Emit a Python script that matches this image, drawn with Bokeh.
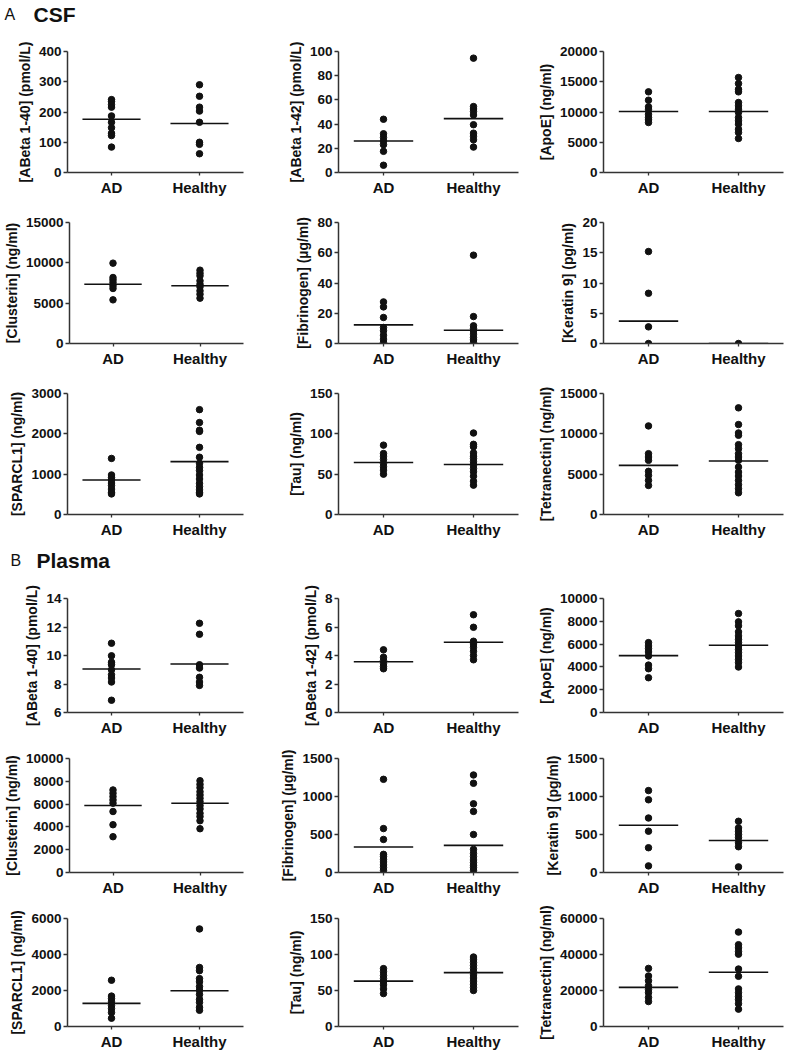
from bokeh.plotting import figure
from bokeh.layouts import column, row
from bokeh.models import Label, FixedTicker, ColumnDataSource, FactorRange, Range1d
from bokeh.transform import dodge
from bokeh.embed import file_html
from bokeh.resources import INLINE

groups = ["AD", "Healthy"]

# ---------------- CSF ----------------
csf_ab40_ad = [241, 235, 224, 216, 187, 166, 148, 130, 122, 84]
csf_ab40_healthy = [290, 252, 216, 203, 166, 100, 93, 62]
csf_ab40_mean = [176, 162]

csf_ab42_ad = [44, 32, 29, 26, 23, 17.5, 6]
csf_ab42_healthy = [94.5, 54.5, 52.5, 50.5, 47.5, 39.5, 32.5, 30, 27, 21]
csf_ab42_mean = [26, 44.5]

csf_apoe_ad = [13330, 11950, 10850, 10470, 9640, 9090, 8700, 8260]
csf_apoe_healthy = [15700, 14700, 13770, 13330, 11570, 11020, 10470, 9920,
                    9090, 8540, 7990, 7160, 6610, 5620]
csf_apoe_mean = [10080, 10080]

csf_clu_ad = [9960, 8180, 7890, 7560, 7150, 6820, 5410]
csf_clu_healthy = [9090, 8720, 8390, 7770, 7350, 7020, 6530, 6110, 5620]
csf_clu_mean = [7350, 7150]

csf_fib_ad = [27.5, 24.2, 17.2, 10.6, 8.4, 5.5, 2.9, 0.7]
csf_fib_healthy = [58.4, 17.8, 11.7, 9.9, 8.4, 6.2, 4.0, 2.4, 0.7]
csf_fib_mean = [12.3, 8.8]

csf_ker_ad = [15.2, 8.3, 2.75, 0]
csf_ker_healthy = [0]
csf_ker_mean = [3.7, 0]

csf_spa_ad = [1390, 980, 920, 860, 780, 720, 630, 550, 510]
csf_spa_healthy = [2600, 2280, 2090, 2060, 1665, 1420, 1270, 1170, 1090,
                   980, 880, 775, 690, 610, 550, 510]
csf_spa_mean = [857, 1310]

csf_tau_ad = [86, 75.6, 72.3, 68.2, 63.2, 59.1, 55, 50]
csf_tau_healthy = [101, 87, 84, 76.4, 72.3, 69.4, 65.3, 61.2, 57, 52.9,
                   47.5, 41.3, 36.4]
csf_tau_mean = [64.5, 62]

csf_tet_ad = [10980, 7540, 7130, 6710, 5350, 4850, 4230, 3600]
csf_tet_healthy = [13220, 11150, 10110, 9820, 8660, 8160, 7540, 7130, 6710,
                   5880, 5260, 4770, 4230, 3690, 3190, 2690]
csf_tet_mean = [6090, 6630]

# ---------------- Plasma ----------------
pl_ab40_ad = [10.86, 9.98, 9.53, 9.35, 9.0, 8.65, 8.42, 8.14, 6.86]
pl_ab40_healthy = [12.26, 11.49, 9.35, 9.12, 8.47, 8.14, 7.9]
pl_ab40_mean = [9.05, 9.4]

pl_ab42_ad = [4.4, 3.88, 3.65, 3.42, 3.23, 3.07]
pl_ab42_healthy = [6.86, 5.98, 5.0, 4.81, 4.58, 4.3, 4.0, 3.7]
pl_ab42_mean = [3.56, 4.93]

pl_apoe_ad = [6130, 5840, 5600, 5310, 4960, 4160, 3840, 3050]
pl_apoe_healthy = [8680, 7950, 7600, 7070, 6720, 6420, 6130, 5840, 5540,
                   5250, 4960, 4660, 4370, 3990]
pl_apoe_mean = [4985, 5894]

pl_clu_ad = [7240, 6950, 6660, 6370, 6080, 5350, 4190, 3140]
pl_clu_healthy = [8050, 7730, 7440, 7090, 6800, 6510, 6220, 5870, 5580,
                  5200, 4910, 4540, 3840]
pl_clu_mean = [5872, 6076]

pl_fib_ad = [1226, 578, 435, 239, 209, 174, 139, 100, 65, 30]
pl_fib_healthy = [1283, 1174, 904, 804, 500, 304, 252, 209, 165, 130, 96, 65, 30]
pl_fib_mean = [335, 357]

pl_ker_ad = [1078, 957, 717, 543, 326, 87]
pl_ker_healthy = [674, 587, 543, 500, 457, 391, 339, 74]
pl_ker_mean = [622, 422]

pl_spa_ad = [2570, 1690, 1550, 1370, 1160, 990, 775, 460]
pl_spa_healthy = [5420, 3280, 3100, 2660, 2480, 2220, 2010, 1780, 1510,
                  1340, 1070, 900]
pl_spa_mean = [1285, 1989]

pl_tau_ad = [80.4, 76, 70.9, 66.5, 62.2, 57.8, 52.2, 45.7]
pl_tau_healthy = [96.5, 93.5, 89.1, 84.8, 80.4, 76.1, 71.7, 67.4, 63,
                  58.7, 54.3, 50]
pl_tau_mean = [63, 74.8]

pl_tet_ad = [32280, 28070, 25440, 22630, 20530, 18770, 16140, 13860]
pl_tet_healthy = [52460, 45440, 43680, 41580, 40180, 31930, 27890, 20880,
                  18770, 16670, 14910, 12630, 9650]
pl_tet_mean = [21750, 30180]

FONT = "Liberation Sans"
INK = "#111111"

# (left border, right border, figure width) per column
COLS = [(67, 25, 268), (70, 12, 262), (73, 5, 258)]


def panel(ylabel, ad, healthy, means, ymin, ymax, step, col, height, top, bottom):
    left, right, w = COLS[col]
    p = figure(x_range=FactorRange(*groups), y_range=Range1d(ymin, ymax),
               width=w, height=height, output_backend="svg",
               toolbar_location=None, min_border_left=left,
               min_border_right=right, min_border_top=top,
               min_border_bottom=bottom)
    p.xgrid.visible = False
    p.ygrid.visible = False
    p.outline_line_color = None

    pts = ColumnDataSource(dict(x=["AD"] * len(ad) + ["Healthy"] * len(healthy),
                                y=list(ad) + list(healthy)))
    p.scatter("x", "y", source=pts, size=6.5, color=INK)

    ms = ColumnDataSource(dict(x=groups, y=means))
    p.segment(x0=dodge("x", -0.33, range=p.x_range), y0="y",
              x1=dodge("x", 0.33, range=p.x_range), y1="y",
              source=ms, line_width=1.6, line_color=INK)

    ticks = []
    t = ymin
    while t <= ymax:
        ticks.append(t)
        t += step
    p.yaxis.ticker = FixedTicker(ticks=ticks)
    p.yaxis.axis_label = ylabel
    p.yaxis.axis_label_text_font = FONT
    p.yaxis.axis_label_text_font_style = "bold"
    p.yaxis.axis_label_text_font_size = "14px"
    p.yaxis.axis_label_text_color = INK
    p.yaxis.axis_label_standoff = 3
    p.yaxis.major_label_standoff = 2
    for ax in (p.xaxis[0], p.yaxis[0]):
        ax.major_label_text_font = FONT
        ax.major_label_text_font_style = "bold"
        ax.major_label_text_color = INK
        ax.axis_line_width = 1.5
        ax.axis_line_color = "#333333"
        ax.major_tick_line_color = "#333333"
        ax.major_tick_line_width = 1.3
        ax.major_tick_in = 0
        ax.minor_tick_line_color = None
    p.yaxis.major_label_text_font_size = "13.5px"
    p.yaxis.major_tick_out = 4
    p.xaxis.major_label_text_font_size = "15px"
    p.xaxis.major_tick_out = 3
    p.xaxis.major_label_standoff = 3
    return p


def title_fig(letter, name, height, yc, xl, xn):
    p = figure(width=792, height=height, output_backend="svg",
               toolbar_location=None, x_axis_type=None, y_axis_type=None,
               min_border=0, x_range=Range1d(0, 1), y_range=Range1d(0, 1))
    p.outline_line_color = None
    p.grid.visible = False
    p.add_layout(Label(x=xl, y=yc, x_units="screen", y_units="screen",
                       text=letter, text_font=FONT, text_font_size="16px",
                       text_baseline="middle", text_color=INK))
    p.add_layout(Label(x=xn, y=yc, x_units="screen", y_units="screen",
                       text=name, text_font=FONT, text_font_size="21px",
                       text_font_style="bold", text_baseline="middle",
                       text_color=INK))
    return p


H1, T1, B1 = 171, 14, 36
H1b, B1b = 165, 30
csf_rows = [
    [panel("[ABeta 1-40] (pmol/L)", csf_ab40_ad, csf_ab40_healthy, csf_ab40_mean, 0, 400, 100, 0, H1, T1, B1),
     panel("[ABeta 1-42] (pmol/L)", csf_ab42_ad, csf_ab42_healthy, csf_ab42_mean, 0, 100, 20, 1, H1, T1, B1),
     panel("[ApoE] (ng/ml)", csf_apoe_ad, csf_apoe_healthy, csf_apoe_mean, 0, 20000, 5000, 2, H1, T1, B1)],
    [panel("[Clusterin] (ng/ml)", csf_clu_ad, csf_clu_healthy, csf_clu_mean, 0, 15000, 5000, 0, H1, T1, B1),
     panel("[Fibrinogen] (µg/ml)", csf_fib_ad, csf_fib_healthy, csf_fib_mean, 0, 80, 20, 1, H1, T1, B1),
     panel("[Keratin 9] (pg/ml)", csf_ker_ad, csf_ker_healthy, csf_ker_mean, 0, 20, 5, 2, H1, T1, B1)],
    [panel("[SPARCL1] (ng/ml)", csf_spa_ad, csf_spa_healthy, csf_spa_mean, 0, 3000, 1000, 0, H1b, T1, B1b),
     panel("[Tau] (ng/ml)", csf_tau_ad, csf_tau_healthy, csf_tau_mean, 0, 150, 50, 1, H1b, T1, B1b),
     panel("[Tetranectin] (ng/ml)", csf_tet_ad, csf_tet_healthy, csf_tet_mean, 0, 15000, 5000, 2, H1b, T1, B1b)],
]

H2, T2, B2 = 160, 16, 30
H3, T3, B3 = 150, 16, 22
pl_rows = [
    [panel("[ABeta 1-40] (pmol/L)", pl_ab40_ad, pl_ab40_healthy, pl_ab40_mean, 6, 14, 2, 0, H2, T2, B2),
     panel("[ABeta 1-42] (pmol/L)", pl_ab42_ad, pl_ab42_healthy, pl_ab42_mean, 0, 8, 2, 1, H2, T2, B2),
     panel("[ApoE] (ng/ml)", pl_apoe_ad, pl_apoe_healthy, pl_apoe_mean, 0, 10000, 2000, 2, H2, T2, B2)],
    [panel("[Clusterin] (ng/ml)", pl_clu_ad, pl_clu_healthy, pl_clu_mean, 0, 10000, 2000, 0, H2, T2, B2),
     panel("[Fibrinogen] (µg/ml)", pl_fib_ad, pl_fib_healthy, pl_fib_mean, 0, 1500, 500, 1, H2, T2, B2),
     panel("[Keratin 9] (pg/ml)", pl_ker_ad, pl_ker_healthy, pl_ker_mean, 0, 1500, 500, 2, H2, T2, B2)],
    [panel("[SPARCL1] (ng/ml)", pl_spa_ad, pl_spa_healthy, pl_spa_mean, 0, 6000, 2000, 0, H3, T3, B3),
     panel("[Tau] (ng/ml)", pl_tau_ad, pl_tau_healthy, pl_tau_mean, 0, 150, 50, 1, H3, T3, B3),
     panel("[Tetranectin] (ng/ml)", pl_tet_ad, pl_tet_healthy, pl_tet_mean, 0, 60000, 20000, 2, H3, T3, B3)],
]

layout = column(
    title_fig("A", "CSF", 37, 23, 4, 33),
    *[row(*r) for r in csf_rows],
    title_fig("B", "Plasma", 38, 22, 10, 36),
    *[row(*r) for r in pl_rows],
)

open("out.html", "w").write(file_html(layout, INLINE))
